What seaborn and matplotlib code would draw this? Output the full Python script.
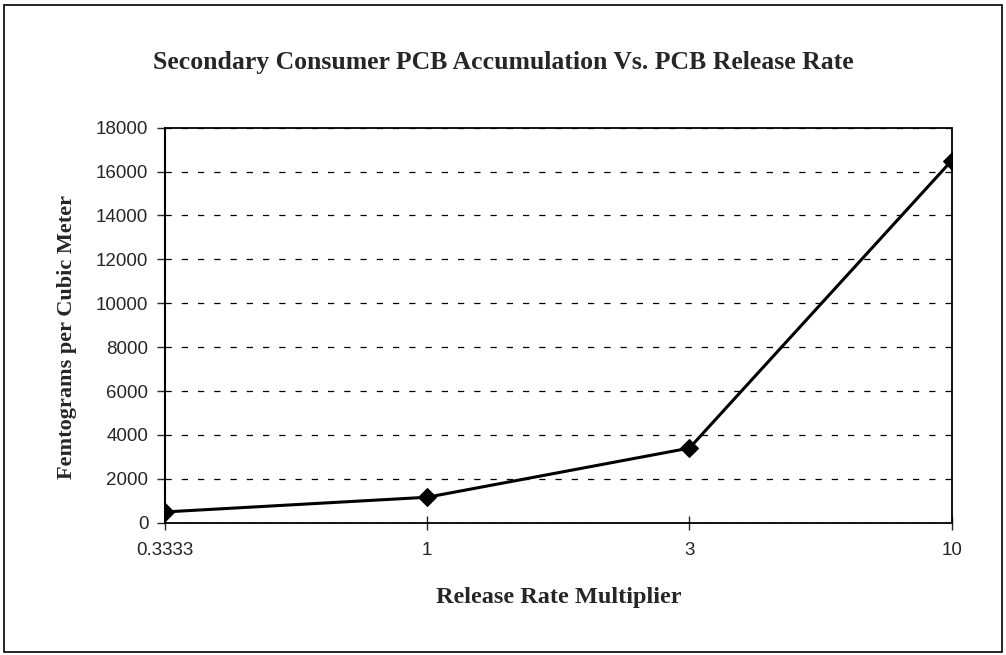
import pandas as pd
import matplotlib.pyplot as plt
import seaborn as sns

# Datos
multiplicador = ["0.3333", "1", "3", "10"]
femtogramos = [490, 1160, 3400, 16500]

df = pd.DataFrame({"multiplicador": multiplicador, "femtogramos": femtogramos})

sns.set_style("white")
plt.rcParams["font.family"] = ["Liberation Sans", "DejaVu Sans"]

fig = plt.figure(figsize=(10.06, 6.55), dpi=100)
ax = fig.add_axes([0.164, 0.202, 0.782, 0.603])

sns.lineplot(data=df, x="multiplicador", y="femtogramos", ax=ax, color="black",
             linewidth=2.2, marker="D", markersize=9, markeredgecolor="black")

ax.set_xlim(0, 3)
ax.set_ylim(0, 18000)
ax.set_yticks(range(0, 18001, 2000))
ax.grid(axis="y", color="black", linestyle=(0, (5, 8)), linewidth=0.9)
ax.grid(axis="x", visible=False)
for s in ax.spines.values():
    s.set_linestyle((0, (1, 1)))
    s.set_linewidth(1.3)
    s.set_color("black")
ax.spines["left"].set_linestyle("-")
ax.spines["left"].set_linewidth(1.5)

ax.tick_params(axis="y", direction="out", length=6, width=1, labelsize=13.5, pad=6, left=True)
ax.tick_params(axis="x", direction="inout", length=10, width=1, labelsize=13.5, pad=9, bottom=True)

serif = ["Liberation Serif", "DejaVu Serif"]
ax.set_xlabel("Release Rate Multiplier", family=serif, fontweight="bold", fontsize=17.5, labelpad=20)
ax.set_ylabel("Femtograms per Cubic Meter", family=serif, fontweight="bold", fontsize=16)
ax.yaxis.set_label_coords(-0.112, 0.47)
fig.text(0.5, 0.905, "Secondary Consumer PCB Accumulation Vs. PCB Release Rate",
         family=serif, fontweight="bold", fontsize=18.5, ha="center", va="center")

# Marco exterior
fig.patches.append(plt.Rectangle((0.004, 0.004), 0.992, 0.988, transform=fig.transFigure,
                                 fill=False, edgecolor="black", linewidth=1.2))

plt.savefig("out.png", dpi=100)
